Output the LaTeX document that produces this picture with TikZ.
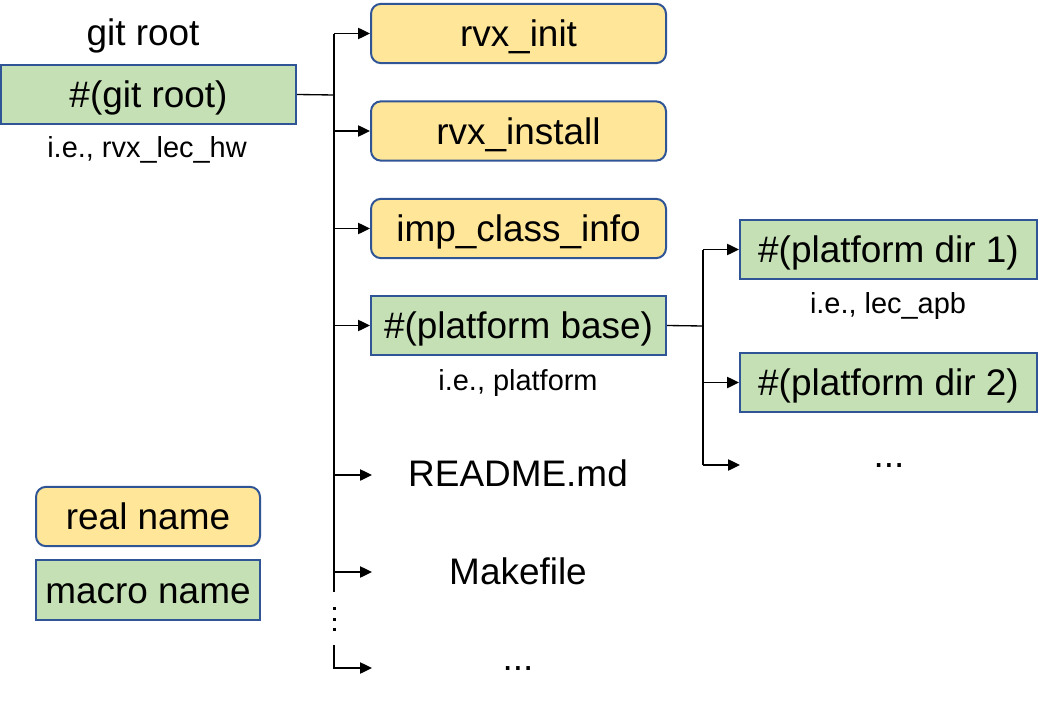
\documentclass[tikz,border=0pt]{standalone}
\usepackage{fontspec}
\setmainfont{Liberation Sans}
\usetikzlibrary{arrows.meta}
\definecolor{yfill}{HTML}{FFE699}
\definecolor{gfill}{HTML}{C5E0B4}
\definecolor{bord}{HTML}{2F5597}
\tikzset{
  big/.style={font=\fontsize{27.7}{33}\selectfont},
  small/.style={font=\fontsize{21.7}{26}\selectfont},
  boxbase/.style={big, draw=bord, line width=1.5pt, inner sep=0pt, minimum height=44.5pt, text height=19.8pt, text depth=0pt},
  realbox/.style={boxbase, fill=yfill, rounded corners=7.5pt},
  macrobox/.style={boxbase, fill=gfill},
  conn/.style={line width=1pt, black},
  arr/.style={conn, -{Triangle[length=9pt,width=8.5pt]}},
  lbl/.style={inner sep=0pt, anchor=base}
}
\begin{document}
\begin{tikzpicture}[x=0.75pt,y=-0.75pt]
\useasboundingbox (0,0) rectangle (1044,713);
% left
\node[lbl,big] (gitlbl) at (143,46) {git root};
\node[macrobox, minimum width=221.5pt] (gitroot) at (148.5,94.5) {\#(git root)};
\node[lbl,small] (gitie) at (147,157) {i.e., rvx\_lec\_hw};
% middle column
\node[realbox, minimum width=221.25pt] (rvxinit) at (518.5,33.5) {rvx\_init};
\node[realbox, minimum width=221.25pt] (rvxinstall) at (518.5,131) {rvx\_install};
\node[realbox, minimum width=221.25pt] (impclass) at (518.5,228.5) {imp\_class\_info};
\node[macrobox, minimum width=221.25pt] (platbase) at (518.5,325.5) {\#(platform base)};
\node[lbl,small] (platie) at (518,390) {i.e., platform};
\node[lbl,big] (readme) at (518,486) {README.md};
\node[lbl,big] (makefile) at (518,584) {Makefile};
\node[lbl,big] (mdots) at (518,670) {...};
% right column
\node[macrobox, minimum width=222.75pt] (pdir1) at (888.5,249.5) {\#(platform dir 1)};
\node[lbl,small] (pdirie) at (888,313) {i.e., lec\_apb};
\node[macrobox, minimum width=222.75pt] (pdir2) at (888.5,382.5) {\#(platform dir 2)};
\node[lbl,big] (rdots) at (889,467) {...};
% legend
\node[realbox, minimum width=168pt] (legreal) at (148,516.5) {real name};
\node[macrobox, minimum width=168pt] (legmacro) at (148,590) {macro name};
% trunk coordinates
\coordinate (ttop) at (334,34);
\coordinate (tjoin) at (334,95);
\coordinate (tbreak) at (334,592);
\coordinate (tresume) at (334,645);
\coordinate (ereadme) at (372,475);
\coordinate (emake) at (372,572);
\coordinate (edots) at (372,668);
\draw[conn] (gitroot.east) -- (tjoin);
\draw[conn] (ttop) -- (tbreak);
\draw[arr] (rvxinit.west -| ttop) -- (rvxinit.west);
\draw[arr] (rvxinstall.west -| ttop) -- (rvxinstall.west);
\draw[arr] (impclass.west -| ttop) -- (impclass.west);
\draw[arr] (platbase.west -| ttop) -- (platbase.west);
\draw[arr] (ereadme -| ttop) -- (ereadme);
\draw[arr] (emake -| ttop) -- (emake);
\draw[arr] (tresume) |- (edots);
\foreach \yy in {608,619,629} \fill (332.5,\yy-1.5) rectangle (335.5,\yy+1.5);
% right branch
\coordinate (rjoin) at (703,326);
\coordinate (rtop) at (703,249.5);
\coordinate (rdotsend) at (740,465);
\draw[conn] (platbase.east) -- (rjoin);
\draw[conn] (rtop) -- (rdotsend -| rtop);
\draw[arr] (pdir1.west -| rtop) -- (pdir1.west);
\draw[arr] (pdir2.west -| rtop) -- (pdir2.west);
\draw[arr] (rdotsend -| rtop) -- (rdotsend);
\end{tikzpicture}
\end{document}
